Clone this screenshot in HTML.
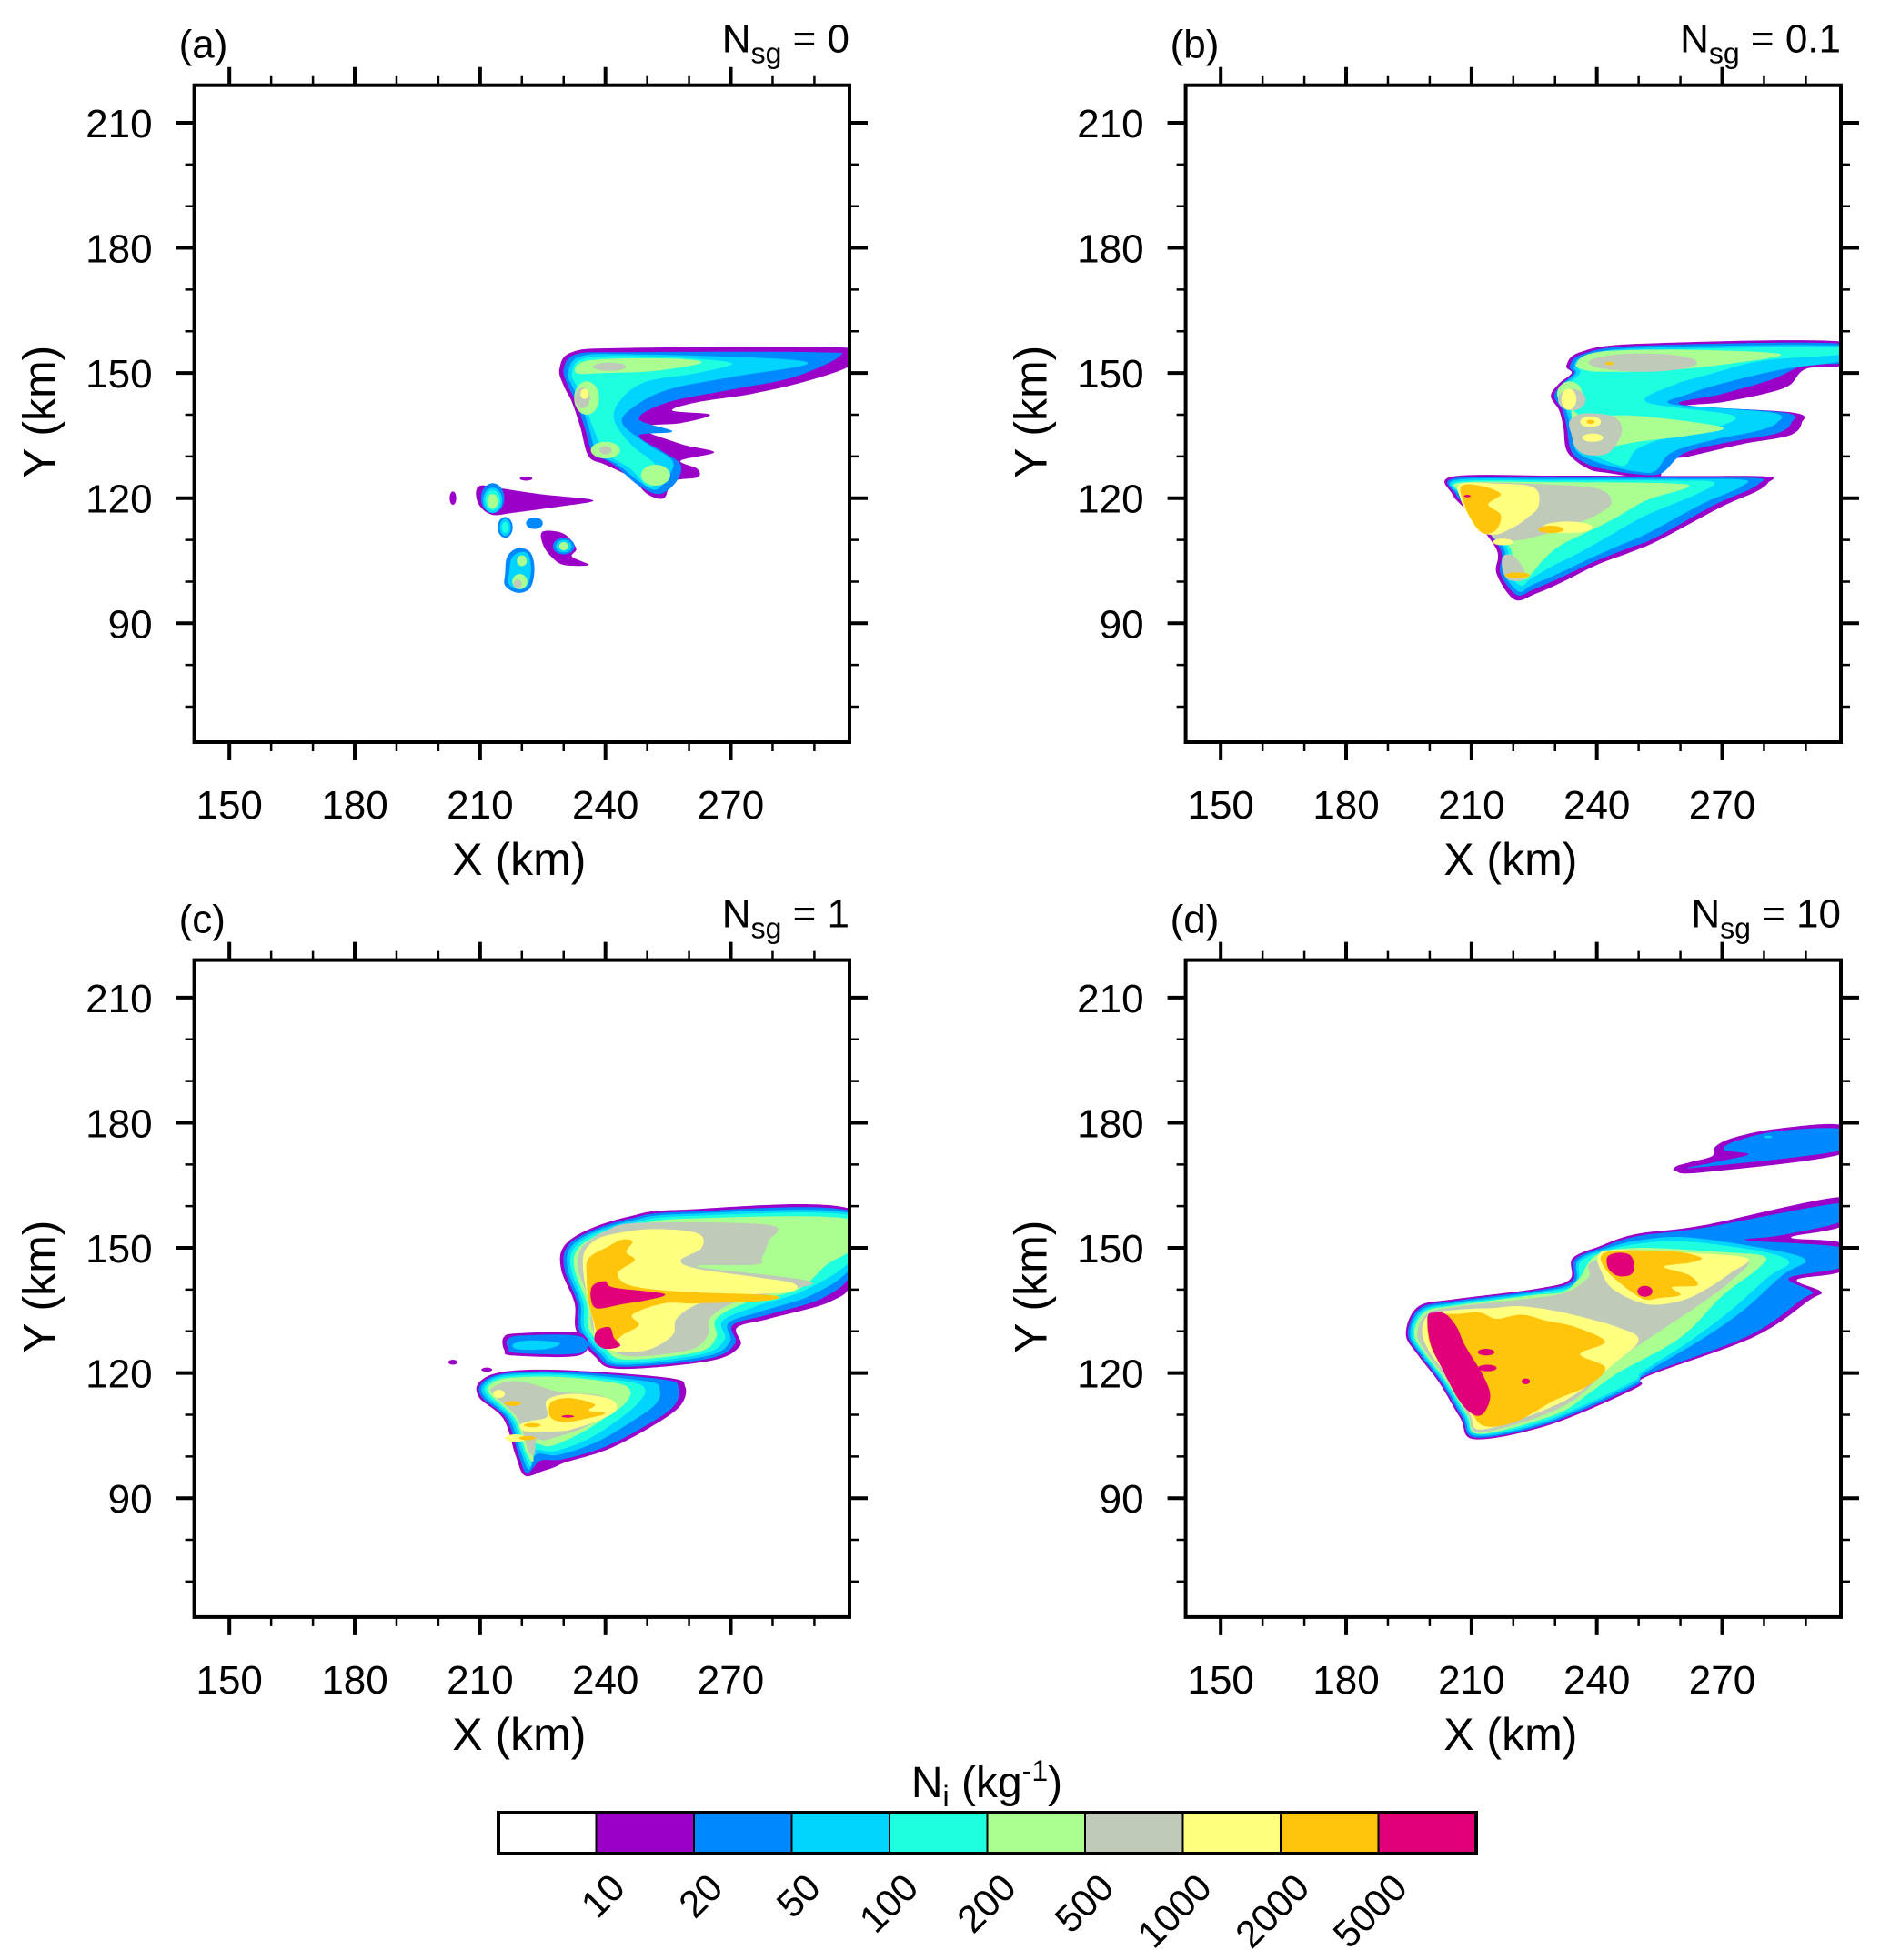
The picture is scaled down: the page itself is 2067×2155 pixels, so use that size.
<!DOCTYPE html>
<html><head><meta charset="utf-8"><style>
html,body{margin:0;padding:0;background:#fff}
svg{display:block;font-family:"Liberation Sans",sans-serif}
</style></head><body>
<svg id="fig" width="2067" height="2155" viewBox="0 0 2067 2155" xmlns="http://www.w3.org/2000/svg"></svg>
<script>
const levels=["10","20","50","100","200","500","1000","2000","5000"];
const colors=["#ffffff","#9b00c8","#0088ff","#00d4ff","#1effe0","#aaff90","#bfcab9","#ffff80","#ffc40c","#e2007a"];
const xTicks=[150,180,210,240,270];
const yTicks=[90,120,150,180,210];
const xMinor=[160,170,190,200,220,230,250,260,280,290];
const yMinor=[70,80,100,110,130,140,160,170,190,200];
const panelLabels=["(a)","(b)","(c)","(d)"];
const nsgValues=["0","0.1","1","10"];
// shapes: [level, points] or ["e", level, cx, cy, rx, ry]  (km)
const shapesA=[
[1,[[229,151],[232,155],[245,156],[299,156],[299,152],[288,148],[275,145],[262,143],[256,141],[265,140],[258,138],[248,137],[258,133],[266,131],[258,129],[262,127],[262,125],[256,124],[254,120],[250,121],[246,125],[240,128],[236,130],[234,137],[232,143],[230,147]]],
[2,[[230,151],[233,154.5],[245,155],[290,155],[296,154],[285,149],[270,146],[255,143],[248,139],[256,136],[248,135],[254,131],[258,128],[257,124],[253,121],[248,123],[242,128],[237,131],[235,137],[233,143],[231,147]]],
[3,[[231,150],[234,154],[246,154.5],[280,153.5],[288,152],[270,149],[255,146],[247,142],[244,138],[250,133],[256,129],[255,125],[252,122],[248,124],[243,128],[238,131],[236,137],[234,143],[232,147]]],
[4,[[232,150],[235,153.5],[250,154],[270,152.5],[262,150],[250,148],[244,144],[242,139],[246,133],[252,128],[253,124],[250,123],[246,127],[240,131],[237,137],[235,143],[233,147]]],
[5,[[233,150],[236,153],[255,153.5],[263,152.5],[252,150.5],[240,150]]],
["e",5,235.5,144,3,4],["e",5,240,131.5,3.5,2],["e",5,252,125.5,3.5,2.5],
["e",6,241,151.5,4,1],["e",6,234.5,144,1.8,2.5],["e",6,240,131.5,1.5,1],["e",7,235,145,1,1.2],
[1,[[209,121],[210,123],[214,122.5],[224,121],[237,119.5],[229,118],[218,116.5],[213,116],[210,118]]],
["e",1,203.5,120,0.8,1.6],["e",1,221,124.7,1.5,0.5],
["e",2,213,120,2.8,3.6],["e",3,213,119.5,2.3,3],["e",4,213,119.5,1.8,2.4],["e",5,213,119.3,1.3,1.7],
["e",2,216,113,1.8,2.5],["e",3,216,113,1.3,2],["e",4,216,113,0.8,1.3],
[1,[[225,112],[230,111.5],[233,108],[232,106],[236,104],[230,104],[227,106],[225,109]]],
["e",2,230,108.5,2.6,2],["e",3,230,108.5,1.9,1.5],["e",5,230,108.5,1.1,1],
["e",2,223,114,2,1.4],
[2,[[216.5,106],[219,108],[222,107],[223,103],[222,98.5],[219,97.3],[216,99],[216,102]]],
[3,[[217.5,105.5],[219.5,107],[221.5,106.5],[222.2,103],[221.3,99],[219,98.2],[216.8,99.5],[217,102.5]]],
["e",5,220,105,1.2,1.3],["e",5,219.5,100,1.8,1.8],["e",6,219,99.5,1,1]
];
const shapesB=[
[1,[[232.7,151.7],[236,155],[250,157],[299,157.5],[299,152],[290,151],[286,147],[280,145],[270,143],[262,142],[287,140.5],[289,138],[286,135],[275,133],[262,130],[256,129],[255,125],[250,125],[243,126],[238,127],[233,131],[232,137],[231,141],[229,144.5],[231,147.5],[234,150]]],
[2,[[233.5,151.5],[236.5,154.5],[250,156.5],[299,157],[299,152.5],[290,152],[282,148.5],[270,145],[260,142.5],[285,140.5],[286.5,138],[283,135.5],[272,133.5],[261,130.8],[255.5,126],[250,125.7],[243,126.7],[238,128],[234,131],[232.8,137],[231.8,141],[229.8,144.5],[231.8,147.5],[234.5,150]]],
[3,[[234.5,151.5],[237,154],[250,156],[299,156.5],[299,153],[285,151],[272,148],[262,145],[258,142.5],[282,140.5],[283,138],[278,136],[268,134],[258,131],[254,126.5],[250,126.3],[244,127.5],[239,129],[235,131.5],[233.8,137],[232.6,141],[230.8,144.5],[232.5,147.5],[235,150]]],
[4,[[235.5,151.5],[238,153.8],[252,155.5],[299,156.2],[299,154.5],[280,153],[268,150],[258,147],[252,143],[272,140],[270,137.5],[260,135.5],[250,132],[247,128],[244,128.3],[240,130],[236.5,132.5],[235,137],[233.5,141],[232,144.5],[233.5,147.5],[236,150]]],
[5,[[235,152],[240,155],[260,155.6],[284,154.5],[270,152],[255,150.5],[244,150.3],[238,150.5]]],
[5,[[234,141],[237,139.7],[250,139.7],[270,137],[262,135],[250,133.5],[242,132],[237,131],[235,134]]],
["e",5,233.5,145,3,3],
["e",6,251,152.5,13,2.2],["e",6,234,143.6,3.3,2.6],
[6,[[233.5,138.5],[237,140.3],[244,139.5],[246,136],[243,131],[238,130.3],[235,132],[234,135]]],
["e",7,233.3,143.7,1.8,2.5],["e",7,238.5,138.3,2.5,1.3],["e",7,239,134.5,2.5,1],["e",8,238.5,138.3,1,0.5],["e",8,243,152.3,1,0.4],
[1,[[205.5,125.2],[230,125.4],[260,125.3],[280.6,125.2],[281,123.7],[278,121.5],[270,118],[255,110],[248,107],[240,104],[232,100],[225.4,97.1],[220.3,95.7],[216,101.9],[216,107.7],[209.4,116.4],[205.5,120.8]]],
[2,[[206,124.8],[230,125],[260,124.9],[278.5,124.8],[278.8,123.5],[276,121.8],[268,118.3],[254,110.5],[247,107.8],[239.5,104.8],[231.5,101],[224.8,98.1],[220.8,96.8],[216.9,102],[216.9,107.8],[210.2,116.4],[206.3,120.8]]],
[3,[[206.4,124.4],[230,124.6],[260,124.6],[275,124.4],[275,123],[272,121.5],[265,118.5],[252,111.5],[245,108.5],[238.5,105.6],[231,102],[224.3,99.1],[221.3,97.6],[217.7,102.2],[217.7,108],[211,116.4],[207,120.8]]],
[4,[[206.8,124],[230,124.2],[258,124.2],[268,123.8],[264,121],[252,116],[243,111],[236,107],[229,103.5],[224,100.5],[221.8,99],[218.5,102.5],[218.5,108],[211.8,116.4],[207.7,120.8]]],
[5,[[207.2,123.7],[230,123.8],[256,123.6],[262,122.7],[252,119.5],[244,115],[238,112],[231,108.5],[227,105],[224.5,102],[222.5,100.5],[219.3,103],[219.3,108],[212.5,116.4],[208.4,120.8]]],
[6,[[207.5,123.4],[225,123.4],[240,122.3],[243.5,119],[240,116],[234,113.5],[228,111.5],[222,110],[216,110],[213,114],[209,119]]],
[6,[[217.5,106],[220,106.2],[222.5,103],[222.5,100.4],[219,100.4],[217.5,102.5]]],
[7,[[207.3,123.4],[216,123.5],[225,122.5],[226,118],[223,115],[220,113],[216,111.3],[212,112],[209.2,116],[207.3,120]]],
["e",7,233,113,6,1.4],["e",7,217.5,109.5,2.4,0.8],
[8,[[207.5,122.8],[212,123],[217,121],[214,118.5],[217,116],[216,112.5],[213,111.5],[210.5,114],[208.5,118]]],
["e",8,229,112.5,3,0.9],["e",8,221,101.5,3,0.7],["e",9,209,120.5,0.8,0.3]
];
const shapesC=[
[1,[[257.7,159.1],[299,159.2],[299,142.6],[294,137.2],[279.5,133.1],[271.5,130.9],[272.2,126.5],[265,122.9],[243.2,121],[237.4,124],[233,130.2],[232.6,136.8],[229.4,144.8],[230,150.3],[235.9,154.4],[246,157.6]]],
[2,[[258,158.6],[299,158.7],[299,144.5],[292,138],[279,134],[270.5,131.5],[271,127],[264.5,123.4],[243.5,121.5],[238,124.4],[233.7,130.3],[233.3,136.8],[230.2,144.8],[230.8,150.2],[236.4,154],[246.3,157.1]]],
[3,[[258.5,158.1],[299,158.2],[299,146],[290,139],[278,135],[269.5,132],[269.8,127.5],[264,124],[244,122],[238.7,124.8],[234.4,130.4],[234,136.8],[231,144.8],[231.6,150],[237,153.7],[246.7,156.6]]],
[4,[[259,157.6],[299,157.7],[299,147.5],[288,140],[276,136],[268,132.5],[268.5,128],[263,124.5],[244.5,122.5],[239.3,125.2],[235.1,130.5],[234.7,136.8],[231.8,144.8],[232.4,149.8],[237.6,153.4],[247.1,156.1]]],
[5,[[259.5,157],[298,157],[299,150],[293,146],[286,140],[274,137],[266.5,133],[266.5,128.5],[262,125],[245,123.2],[240,125.8],[236,130.6],[235.5,136.8],[232.6,144.8],[233.2,149.5],[238.2,153],[247.5,155.5]]],
[6,[[240,154],[248,156],[279,155.5],[279,151.5],[277.5,147.8],[276,146],[262,145.5],[289,142],[280,139.2],[270,136.5],[265,133],[264.5,129],[260,125.5],[246,124],[240.5,126.5],[236.8,130.7],[236.3,136.8],[233.5,144.8],[234,149.5],[236.5,152]]],
[7,[[240.5,153],[251,154.5],[262,153.5],[263,150],[258,147],[262,145],[276,143],[285,141.5],[284,139.5],[270,138.5],[262,136.5],[257,133],[256,129],[250,125.5],[242,125.2],[238,128],[236.9,133],[235,142],[234.7,148],[236.5,151]]],
[8,[[241,150.5],[244,152],[246.5,151.5],[245,149],[247,147],[243,144],[246,141],[258,139.5],[280,138.6],[278,137.3],[262,136.7],[254,136.7],[246.5,134],[248,131.5],[244,129],[241,126.3],[238.5,127.5],[237.3,132],[236,137],[235.5,143],[236,147.5]]],
[9,[[237,141],[240,142],[242,140.5],[254,139],[250,137.5],[244,136.5],[238,135.5],[236.5,138]]],
[9,[[238,130.2],[241,131],[242,128.5],[243.5,126.5],[240,125.8],[237.5,127.5]]],
[1,[[215.6,128.5],[219,129.5],[234,129.5],[234,124.3],[218,124.2],[215.8,125.5]]],
[2,[[216.6,128],[220,129],[234,128.8],[234,124.8],[219,124.8],[216.7,126]]],
[3,[[218,127],[222,127.8],[229,127.2],[226,125.8],[219,125.7]]],
["e",1,203.5,122.6,1.1,0.6],["e",1,211.6,120.8,1.3,0.5],
[1,[[209.8,117.8],[215.6,120.3],[230,120.7],[254.8,118.9],[259.1,116.7],[257.7,111.9],[250.4,106.8],[240.3,101.6],[230.8,98.7],[228,97.5],[225,96.5],[220.7,95.4],[218.5,100.2],[215.6,109],[209.8,114.1]]],
[2,[[210.4,117.6],[215.8,119.9],[230,120.3],[253.5,118.5],[257.5,116.5],[256.3,112],[249.4,107.2],[239.7,102.2],[229.7,99.3],[224.5,99],[221.2,96],[219.2,100.4],[216.3,109],[210.4,114.2]]],
[3,[[211,117.4],[216,119.6],[230,119.9],[250,118],[253,116],[252,112.5],[246.5,108.5],[238,103.5],[228.8,100.4],[223.5,100.5],[221.7,96.8],[219.9,100.6],[217,109],[211,114.4]]],
[4,[[211.6,117.2],[216.3,119.2],[230,119.5],[246,117.8],[249.5,116],[248,113],[244,109.5],[236.5,104.5],[228,101.3],[223,101.5],[222.2,97.6],[220.5,100.8],[217.7,109],[211.7,114.6]]],
[5,[[212.2,117],[216.6,118.8],[230,119],[243,117.5],[246,115.5],[244.5,112.5],[241,110],[234.5,105.8],[227,102.5],[223,103],[222.7,98.8],[221,101],[218.4,109],[212.4,114.8]]],
[6,[[213,116.5],[217,118],[222,117.5],[229,115.5],[239,114.5],[242,111.5],[235,107],[226,104],[223.5,104],[223,100.5],[221.5,101.5],[219,109],[213.2,114.8]]],
["e",7,214.5,115,1.4,1],[7,[[226,113.5],[232,115],[241,113.8],[242.5,111],[238,108.5],[232,106.5],[228,106],[221,106],[219.5,107.5],[222,108.5],[226,109.5]]],
["e",7,218.5,104.4,2.5,0.9],
[8,[[227,113],[231.5,114],[237.4,112.5],[236,111],[240,110.3],[235,109],[230,108.2],[226.8,109.5]]],
["e",8,217.8,112.7,2,0.6],["e",8,222.5,107.5,2,0.5],["e",8,221.3,104.4,2,0.5],["e",9,231,109.6,1.5,0.3]
];
const shapesD=[
[1,[[258.9,169.5],[258.9,168.4],[265.4,168.1],[299,172.6],[299,179.3],[283.5,178.6],[272.7,176.4],[268.3,174.2],[267.6,172],[262.5,170.6]]],
[2,[[263.2,169.2],[299,173.5],[299,178.4],[283.5,178],[273,175.5],[270.5,173.5],[276.3,172.4],[268,170.5]]],
["e",3,281,176.6,1,0.3],
[1,[[194.3,129.4],[197.2,135.9],[205.9,137.7],[225.5,140.2],[233.5,142.4],[234.2,147.5],[240.7,150.4],[249.4,153.3],[265.4,155.4],[299,162.2],[299,155.4],[286.5,152.5],[299,151],[299,144.6],[287.9,142.4],[293.7,139.5],[290.8,137.4],[277.7,128.7],[252.3,119.3],[249.4,116.4],[229.1,107.7],[211,104.1],[207.3,109.2],[202.2,117.8],[197.2,124.3]]],
[2,[[194.8,129.4],[197.6,135.5],[206,137.3],[225.5,139.8],[234,142],[234.8,147.2],[241,150],[249.6,152.8],[265.5,154.8],[299,160.8],[299,156.5],[284,153],[276,151.8],[299,150],[299,145.5],[286,142.8],[291.5,139.5],[289,137.6],[276.5,129],[252,119.6],[249,116.8],[229,108.1],[211.3,104.5],[207.7,109.4],[202.6,117.9],[197.6,124.4]]],
[3,[[195.3,129.4],[198,135.1],[206.1,136.9],[225.5,139.4],[234.5,141.6],[235.4,146.9],[241.4,149.6],[250,151.8],[262,152.5],[282,149.5],[290,147],[284.5,143.5],[275,135],[265,128],[251.5,120],[248.5,117.2],[228.8,108.5],[211.6,104.9],[208.1,109.6],[203,118],[198,124.5]]],
[4,[[195.8,129.4],[198.4,134.8],[206.2,136.5],[225.5,139],[235,141.2],[236,146.6],[241.8,149.2],[250,151],[262,151.5],[280,149],[286,146.5],[281,143],[272,135],[262,127.5],[251,120.4],[248,117.6],[228.6,108.9],[211.9,105.3],[208.5,109.8],[203.4,118.1],[198.4,124.6]]],
[5,[[196.3,129.4],[198.8,134.6],[206.3,136.2],[225,138.7],[232,139.5],[236,143],[240,148.3],[250,150],[270,149],[280,148],[278.5,145],[270,138.5],[260,128.5],[245,120],[238,115],[230,110],[212.2,105.4],[208.9,109.9],[203.8,118.2],[198.8,124.7]]],
[6,[[197,129.4],[199.5,134.3],[207,136],[225,138],[233,139.5],[238,143],[240,147],[262,148.5],[276,147.3],[272,142],[264,136],[255,130],[245,123],[232,112],[212.5,105.8],[209.2,110],[204.2,118.3],[199.3,124.8]]],
[7,[[198.2,130],[200,134],[207,135.2],[215,135.6],[222,136],[232,134.5],[245,131],[250,128],[245,123],[232,113.2],[213,106.5],[209.5,110.3],[204.8,118.5],[200,125]]],
[7,[[240.3,148],[244,149.5],[262,148.8],[276,147.5],[272,144],[266,140],[260,137.3],[252,136.5],[244,140],[241,144.5]]],
[8,[[199.5,132],[202,134],[207,134.2],[212,134.5],[216,133],[222,134],[228,132.5],[235,131],[242,127.5],[236,124.5],[242,121.3],[238,117],[230,113.5],[221,108.5],[213.5,107.2],[210,110.5],[205.5,118.7],[200.6,125.5]]],
[8,[[241,148],[244.5,149.3],[258,149.2],[265,147.7],[262.5,146.5],[256,145.5],[262,143.5],[264,141],[258,140.6],[260,138.7],[255,138],[251,137.8],[245,142],[242,145]]],
[9,[[199.5,133.5],[201.5,134.5],[204,134],[206.5,131],[208,127.5],[210,124],[213,119],[214.5,114.5],[213,110.5],[210.5,110],[207,113.5],[203,121],[200.2,127]]],
["e",9,213.5,125,2,0.8],["e",9,213.8,121.2,2.2,0.8],["e",9,223,118,1,0.7],
[9,[[242.5,147.8],[245,148.8],[248,148.2],[249,145.5],[248,143.5],[245,143.3],[242.8,145]]],
["e",9,251.5,139.6,1.8,1.3]
];
const allShapes=[shapesA,shapesB,shapesC,shapesD];

const NS="http://www.w3.org/2000/svg";
const svg=document.getElementById("fig");
function mk(tag,attrs,parent){const e=document.createElementNS(NS,tag);for(const k in attrs)e.setAttribute(k,attrs[k]);(parent||svg).appendChild(e);return e;}
const XMIN=141.6,XMAX=298.4,YMIN=61.5,YMAX=219;
const PW=720.4,PH=722.3;
const origins=[[213.6,93.7],[1303.6,93.7],[213.6,1055.6],[1303.6,1055.6]];
function sx(o,v){return o[0]+(v-XMIN)/(XMAX-XMIN)*PW;}
function sy(o,v){return o[1]+(YMAX-v)/(YMAX-YMIN)*PH;}
function smooth(pts){const n=pts.length;let d="M"+pts[0][0].toFixed(1)+","+pts[0][1].toFixed(1);
 for(let i=0;i<n;i++){const p0=pts[(i-1+n)%n],p1=pts[i],p2=pts[(i+1)%n],p3=pts[(i+2)%n];
  const c1=[p1[0]+(p2[0]-p0[0])/6,p1[1]+(p2[1]-p0[1])/6],c2=[p2[0]-(p3[0]-p1[0])/6,p2[1]-(p3[1]-p1[1])/6];
  d+="C"+c1[0].toFixed(1)+","+c1[1].toFixed(1)+" "+c2[0].toFixed(1)+","+c2[1].toFixed(1)+" "+p2[0].toFixed(1)+","+p2[1].toFixed(1);}
 return d+"Z";}

origins.forEach((o,pi)=>{
 const g=mk("g",{});
 
 
 const cp=mk("clipPath",{id:"clip"+pi},g);
 mk("rect",{x:o[0],y:o[1],width:PW,height:PH},cp);
 const cg=mk("g",{"clip-path":"url(#clip"+pi+")"},g);
 
 
 allShapes[pi].forEach(s=>{
  let el;
  if(s[0]==="e"){
   el=mk("ellipse",{cx:sx(o,s[2]),cy:sy(o,s[3]),rx:s[4]*PW/(XMAX-XMIN),ry:s[5]*PH/(YMAX-YMIN),fill:colors[s[1]]},cg);
  }else{
   el=mk("path",{d:smooth(s[1].map(p=>[sx(o,p[0]),sy(o,p[1])])),fill:colors[s[0]]},cg);
  }
  
  
 });
 const fr=mk("rect",{x:o[0],y:o[1],width:PW,height:PH,fill:"none",stroke:"#000","stroke-width":4},g);
 
 
 let d="";
 xTicks.forEach(v=>{const x=sx(o,v);d+=`M${x},${o[1]}v-20M${x},${o[1]+PH}v20`;});
 yTicks.forEach(v=>{const y=sy(o,v);d+=`M${o[0]},${y}h-20M${o[0]+PW},${y}h20`;});
 let dm="";
 xMinor.forEach(v=>{const x=sx(o,v);dm+=`M${x},${o[1]}v-10M${x},${o[1]+PH}v10`;});
 yMinor.forEach(v=>{const y=sy(o,v);dm+=`M${o[0]},${y}h-10M${o[0]+PW},${y}h10`;});
 const tk=mk("path",{d:d,stroke:"#000","stroke-width":4,fill:"none"},g);
 
 
 const tm=mk("path",{d:dm,stroke:"#000","stroke-width":2.5,fill:"none"},g);
 
 
 xTicks.forEach(v=>{const t=mk("text",{x:sx(o,v),y:o[1]+PH+84,"font-size":44,"text-anchor":"middle"},g);t.textContent=v;
  
  });
 yTicks.forEach(v=>{const t=mk("text",{x:o[0]-46,y:sy(o,v)+16,"font-size":44,"text-anchor":"end"},g);t.textContent=v;
  
  });
 const xt=mk("text",{x:o[0]+PW*0.5-3,y:o[1]+PH+146,"font-size":50,"text-anchor":"middle"},g);xt.textContent="X (km)";
 
 
 const yt=mk("text",{x:0,y:0,"font-size":50,"text-anchor":"middle",transform:`translate(${o[0]-153},${o[1]+PH*0.5-2}) rotate(-90)`},g);yt.textContent="Y (km)";
 
 
 const pl=mk("text",{x:o[0]-17,y:o[1]-30,"font-size":44},g);pl.textContent=panelLabels[pi];
 
 
 const nt=mk("text",{x:o[0]+PW,y:o[1]-36,"font-size":44,"text-anchor":"end"},g);
 
 
 const t1=mk("tspan",{},nt);t1.textContent="N";
 const t2=mk("tspan",{"font-size":32,dy:12},nt);t2.textContent="sg";
 const t3=mk("tspan",{dy:-12},nt);t3.textContent=" = "+nsgValues[pi];
});

// colorbar
const cb=mk("g",{});


const CBX=548,CBW=1075,CBY=1993,CBH=45,bw=CBW/colors.length;
colors.forEach((c,i)=>{const r=mk("rect",{x:CBX+i*bw,y:CBY,width:bw,height:CBH,fill:c,stroke:"#000","stroke-width":2},cb);
 
 });
const cbf=mk("rect",{x:CBX,y:CBY,width:CBW,height:CBH,fill:"none",stroke:"#000","stroke-width":4},cb);


levels.forEach((l,i)=>{const bx=CBX+(i+1)*bw;
 const t=mk("text",{x:0,y:0,"font-size":42,"text-anchor":"end",transform:`translate(${bx+34},${2078}) rotate(-45)`},cb);t.textContent=l;
 
 });
const ct=mk("text",{x:1085,y:1976,"font-size":48,"text-anchor":"middle"},cb);


const c1=mk("tspan",{},ct);c1.textContent="N";
const c2=mk("tspan",{"font-size":32,dy:10},ct);c2.textContent="i";
const c3=mk("tspan",{dy:-10},ct);c3.textContent=" (kg";
const c4=mk("tspan",{"font-size":32,dy:-18},ct);c4.textContent="-1";
const c5=mk("tspan",{dy:18},ct);c5.textContent=")";
</script>
</body></html>
